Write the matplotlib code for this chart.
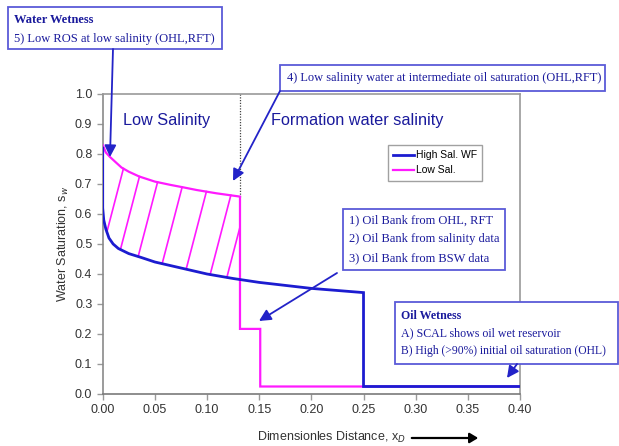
import numpy as np
import matplotlib
matplotlib.use("Agg")
import matplotlib.pyplot as plt
from matplotlib.patches import Rectangle, FancyArrowPatch

# ---- data -------------------------------------------------------------
high_sal_x = [0.0, 0.0, 0.001, 0.003, 0.006, 0.010, 0.015, 0.025, 0.037, 0.050,
              0.075, 0.100, 0.125, 0.150, 0.175, 0.200, 0.225, 0.250, 0.250, 0.400]
high_sal_sw = [0.82, 0.62, 0.58, 0.55, 0.52, 0.50, 0.485, 0.468, 0.455, 0.440,
               0.420, 0.400, 0.385, 0.372, 0.362, 0.352, 0.345, 0.338, 0.025, 0.025]

low_sal_x = [0.0, 0.003, 0.007, 0.012, 0.018, 0.025, 0.035, 0.050, 0.065, 0.077,
             0.090, 0.109, 0.1316, 0.1316, 0.151, 0.151, 0.400]
low_sal_sw = [0.83, 0.805, 0.79, 0.774, 0.755, 0.741, 0.725, 0.708, 0.697, 0.689,
              0.680, 0.669, 0.658, 0.217, 0.217, 0.025, 0.025]

low_sal_front = 0.1316              # end of the low-salinity zone
hatch_start_x = [0.004, 0.017, 0.034, 0.057, 0.080, 0.103, 0.119]
hatch_run = 0.075                   # x advance per unit of saturation

x_ticks = [0.00, 0.05, 0.10, 0.15, 0.20, 0.25, 0.30, 0.35, 0.40]
y_ticks = [0.0, 0.1, 0.2, 0.3, 0.4, 0.5, 0.6, 0.7, 0.8, 0.9, 1.0]

# ---- style ------------------------------------------------------------
W, H = 619, 446
BLUE = "#1c1cd0"
MAGENTA = "#ff1aff"
NOTE_TEXT = "#1a1a9c"
NOTE_EDGE = "#5a5ad8"
ARROW = "#2323c8"
SPINE = "#9a9a9a"

plt.rcParams["font.family"] = ["Liberation Sans", "DejaVu Sans"]

fig = plt.figure(figsize=(W / 100, H / 100), dpi=100)
ax = fig.add_axes([102.7 / W, 1 - 394 / H, (520 - 102.7) / W, (394 - 94) / H])


def fx(px):
    return px / W


def fy(py):
    return 1 - py / H


# ---- curves -----------------------------------------------------------
ax.plot(high_sal_x, high_sal_sw, color=BLUE, lw=2.0, label="High Sal. WF",
        solid_joinstyle="miter", zorder=4)
ax.plot(low_sal_x, low_sal_sw, color=MAGENTA, lw=1.6, label="Low Sal.",
        solid_joinstyle="miter", zorder=3)

# hatching between the two saturation profiles
bx = np.array(high_sal_x[2:18])
by = np.array(high_sal_sw[2:18])
tx = np.array(low_sal_x[:13])
ty = np.array(low_sal_sw[:13])
for x0 in hatch_start_x:
    y0 = np.interp(x0, bx, by)
    s = np.linspace(0, 0.5, 2001)
    xs = x0 + hatch_run * s
    ys = y0 + s
    top = np.interp(np.minimum(xs, low_sal_front), tx, ty)
    hit = np.argmax((ys >= top) | (xs >= low_sal_front))
    ax.plot([x0, xs[hit]], [y0, ys[hit]], color=MAGENTA, lw=1.2, zorder=2)

ax.plot([low_sal_front, low_sal_front], [low_sal_sw[12], 1.0], color="#444444",
        lw=0.9, ls=(0, (1, 1.2)), zorder=2)

ax.text(0.061, 0.91, "Low Salinity", color=NOTE_TEXT, fontsize=11.7,
        ha="center", va="center")
ax.text(0.2435, 0.91, "Formation water salinity", color=NOTE_TEXT,
        fontsize=11.7, ha="center", va="center")

# ---- axes -------------------------------------------------------------
ax.set_xlim(0, 0.4)
ax.set_ylim(0, 1.0)
ax.set_xticks(x_ticks)
ax.set_yticks(y_ticks)
ax.set_xticklabels([f"{v:.2f}" for v in x_ticks])
ax.set_yticklabels([f"{v:.1f}" for v in y_ticks])
ax.tick_params(colors="#333333", labelsize=9, length=4, color=SPINE, width=1)
for sp in ax.spines.values():
    sp.set_color(SPINE)
    sp.set_linewidth(1.2)
ax.spines["bottom"].set_color("#7a7a7a")
ax.spines["left"].set_color("#8a8a8a")

ax.set_ylabel(r"Water Saturation, s$_w$", fontsize=9, color="#333333",
              labelpad=3)
fig.text(fx(331), fy(437), r"Dimensionles Distance, x$_D$", fontsize=9,
         color="#333333", ha="center", va="center")
fig.add_artist(FancyArrowPatch(
    (fx(409), fy(438)), (fx(481), fy(438)), transform=fig.transFigure,
    arrowstyle="-|>,head_length=5,head_width=3", color="black", lw=1.6))

leg = ax.legend(loc="upper left", bbox_to_anchor=((388 - 102.7) / 417.3, (394 - 145) / 300),
                fontsize=7.5, frameon=True, fancybox=False, handlelength=2.0,
                handletextpad=0.2, borderpad=0.5, labelspacing=0.5,
                borderaxespad=0)
leg.get_frame().set_edgecolor("#8a8a8a")
leg.get_frame().set_linewidth(1.0)

# ---- annotation boxes -------------------------------------------------
serif = ["Liberation Serif", "DejaVu Serif"]


def note_box(x0, y0, x1, y1):
    fig.add_artist(Rectangle((fx(x0), fy(y1)), fx(x1 - x0), (y1 - y0) / H,
                             transform=fig.transFigure, facecolor="white",
                             edgecolor=NOTE_EDGE, lw=1.3, zorder=5))


def note_text(x, y, s, bold=False, size=9):
    fig.text(fx(x), fy(y), s, family=serif, fontsize=size, color=NOTE_TEXT,
             weight="bold" if bold else "normal", ha="left", va="center",
             zorder=6)


def arrow(p0, p1):
    fig.add_artist(FancyArrowPatch(
        (fx(p0[0]), fy(p0[1])), (fx(p1[0]), fy(p1[1])),
        transform=fig.transFigure, arrowstyle="-|>,head_length=7,head_width=3.5",
        color=ARROW, lw=1.3, shrinkA=0, shrinkB=0, zorder=7))


note_box(8, 7, 222, 49)
note_text(14, 20, "Water Wetness", bold=True)
note_text(14, 39, "5) Low ROS at low salinity (OHL,RFT)")
arrow((113, 49), (110, 157))

note_box(280, 65, 605, 91)
note_text(287, 78, "4) Low salinity water at intermediate oil saturation (OHL,RFT)",
          size=8.9)
arrow((280, 91), (233, 181))

note_box(343, 209, 505, 270)
note_text(349, 220, "1) Oil Bank from OHL, RFT")
note_text(349, 239, "2) Oil Bank from salinity data")
note_text(349, 258, "3) Oil Bank from BSW data")
arrow((337, 273), (259, 321))

note_box(395, 302, 618, 364)
note_text(401, 316, "Oil Wetness", bold=True, size=8.6)
note_text(401, 333, "A) SCAL shows oil wet reservoir", size=8.6)
note_text(401, 351, "B) High (>90%) initial oil saturation (OHL)", size=8.4)
arrow((517, 364), (507, 378))

fig.savefig("out.png", dpi=100)
